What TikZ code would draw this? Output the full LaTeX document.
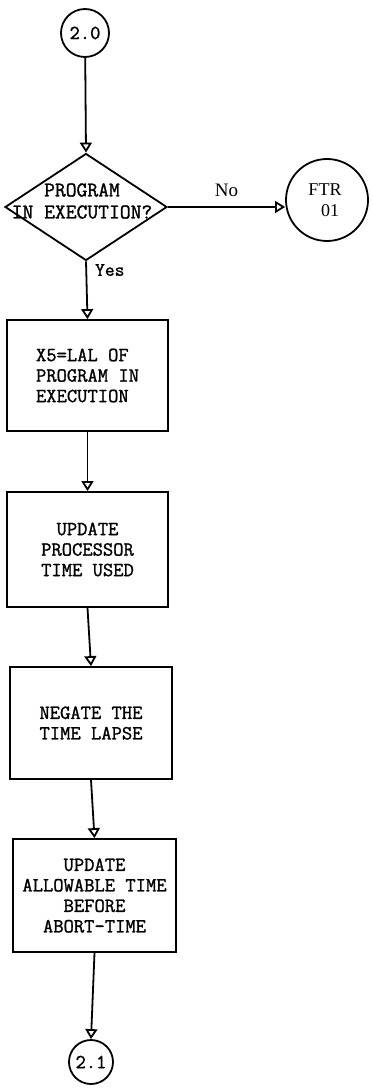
\documentclass[tikz,border=0pt]{standalone}
\usepackage{fontspec}
\newfontfamily\twfont{Latin Modern Mono}[FakeBold=1.3]
\newfontfamily\lblfont{Liberation Serif}
\usetikzlibrary{arrows.meta,shapes.geometric}
\begin{document}
\begin{tikzpicture}[x=1pt,y=-1pt,
  every node/.style={font=\twfont\fontsize{20}{20.5}\selectfont, inner sep=0pt},
  proc/.style={draw, line width=1.8pt, minimum width=161pt, minimum height=112pt, align=center},
  conn/.style={draw, circle, line width=1.8pt},
  flow/.style={line width=1.8pt, -{Triangle[open, length=10pt, width=12pt]}},
  lbl/.style={font=\lblfont\fontsize{18}{21}\selectfont}
]
\useasboundingbox (0,0) rectangle (372,1091);

\node[conn, minimum size=48pt] (c20) at (85,33) {2.0};
\node[draw, diamond, line width=1.8pt, minimum width=162pt, minimum height=107pt] (dec) at (86,207) {};
\node[align=center, font=\twfont\fontsize{21}{22}\selectfont] (dect) at (82,201) {PROGRAM\\IN EXECUTION?};
\node[conn, minimum size=82pt, lbl, align=center] (ftr) at (327,200) {\hspace*{-4pt}FTR\\\hspace*{6pt}01};

\node[proc, align=left, minimum height=111pt] (b1) at (87.5,375.5) {X5=LAL OF\\PROGRAM IN\\EXECUTION};
\node[proc, minimum height=115pt] (b2) at (87.5,549.5) {UPDATE\\PROCESSOR\\TIME USED};
\node[proc, minimum width=162pt] (b3) at (91,723) {NEGATE THE\\TIME LAPSE};
\node[proc, minimum width=163pt, minimum height=113pt] (b4) at (94.5,895.5) {UPDATE\\ALLOWABLE TIME\\BEFORE\\ABORT-TIME};
\node[conn, minimum size=44pt] (c21) at (91,1062) {2.1};

\draw[flow] (c20) -- (dec.north);
\draw[flow] (dec.east) -- (ftr.west |- dec.east) node[lbl, font=\lblfont\fontsize{19}{21}\selectfont, midway, above=9pt] {No};
\draw[flow] (dec.south) -- (b1.north) node[pos=0.15, anchor=west, xshift=8pt, font=\twfont\fontsize{19}{20}\selectfont] {Yes};
\draw[flow] (b1.south) -- (b2.north);
\draw[flow] (b2.south) -- (b3.north);
\draw[flow] (b3.south) -- (b4.north);
\draw[flow] (b4.south) -- (c21.north);
\end{tikzpicture}
\end{document}
